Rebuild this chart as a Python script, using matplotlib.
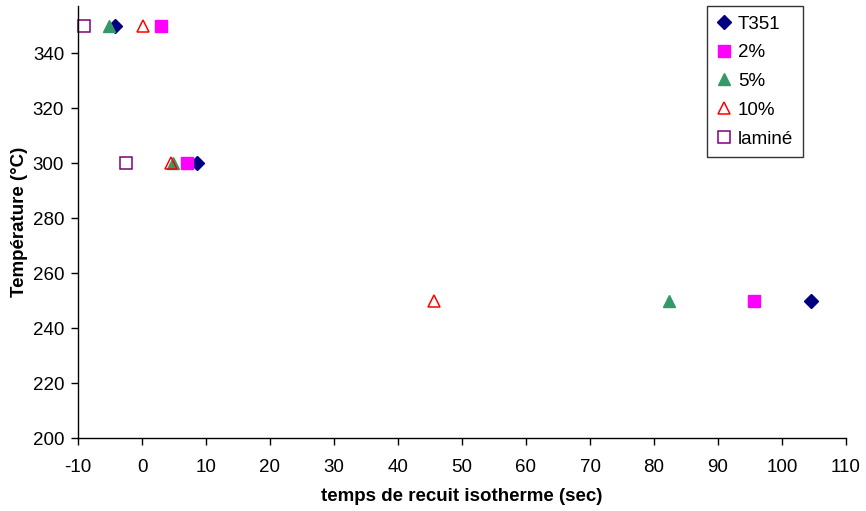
import matplotlib
matplotlib.use("Agg")
import matplotlib.pyplot as plt

plt.rcParams['font.family'] = ['Liberation Sans', 'DejaVu Sans']
plt.rcParams['axes.unicode_minus'] = False

temps = [350, 300, 250]
t351 = [-4.2, 8.6, 104.6]
p2 = [3.0, 7.1, 95.6]
p5 = [-5.1, 4.9, 82.4]
p10 = [0.1, 4.6, 45.6]
lam_t = [-9.0, -2.5]
lam_T = [350, 300]

fig = plt.figure(figsize=(8.66, 5.11), dpi=100)
ax = fig.add_axes([78/866, 73/511, 768/866, 432/511])

ax.plot(t351, temps, linestyle='none', marker='D', color='#000080', markersize=7, label='T351', clip_on=False)
ax.plot(p2, temps, linestyle='none', marker='s', color='#FF00FF', markersize=8, label='2%', clip_on=False)
ax.plot(p5, temps, linestyle='none', marker='^', color='#339966', markersize=8.5, label='5%', clip_on=False)
ax.plot(p10, temps, linestyle='none', marker='^', markerfacecolor='none', markeredgecolor='#FF0000',
        markeredgewidth=1.1, markersize=8.5, label='10%', clip_on=False)
ax.plot(lam_t, lam_T, linestyle='none', marker='s', markerfacecolor='none', markeredgecolor='#800080',
        markeredgewidth=1.1, markersize=8, label='laminé', clip_on=False)

ax.set_xlim(-10, 110)
ax.set_ylim(200, 357.1)
ax.set_xticks(range(-10, 111, 10))
ax.set_yticks(range(200, 341, 20))
for s in ['top', 'right']:
    ax.spines[s].set_visible(False)
for s in ['left', 'bottom']:
    ax.spines[s].set_color('#000000')
    ax.spines[s].set_linewidth(1.0)
ax.tick_params(axis='both', labelsize=13.5, direction='out', length=5, width=1)
ax.tick_params(axis='x', pad=10)
ax.tick_params(axis='y', pad=5)
ax.set_xlabel('temps de recuit isotherme (sec)', fontsize=13.5, fontweight='bold', labelpad=9)
ax.set_ylabel('Température (°C)', fontsize=13.5, fontweight='bold', labelpad=3)

leg = ax.legend(loc='upper left', bbox_to_anchor=((707-78)/768, 1.0), fontsize=13.5,
                frameon=True, fancybox=False, edgecolor='black', borderpad=0.5,
                handlelength=0.8, handletextpad=0.35, labelspacing=0.62, borderaxespad=0)
leg.get_frame().set_linewidth(1.0)

fig.savefig('out.png', dpi=100)
